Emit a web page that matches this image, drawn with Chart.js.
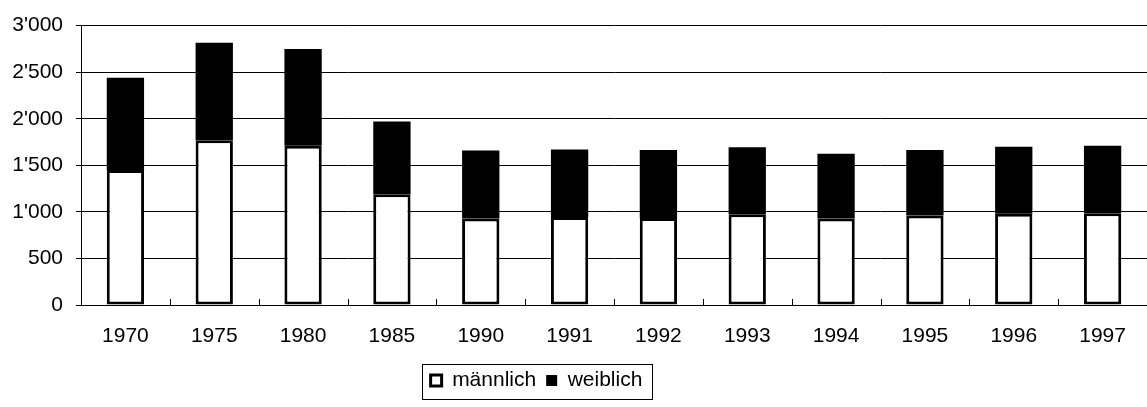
<!DOCTYPE html>
<html>
<head>
<meta charset="utf-8">
<script src="https://cdn.jsdelivr.net/npm/chart.js@4.4.0/dist/chart.umd.min.js"></script>
<style>
  html, body { margin: 0; padding: 0; background: #fff; }
  #wrap { width: 1147px; height: 407px; }
</style>
</head>
<body>
<div id="wrap"><canvas id="Canvasnya"></canvas></div>
<script>
var labels = ["1970", "1975", "1980", "1985", "1990", "1991", "1992", "1993", "1994", "1995", "1996", "1997"];
var maennlich = [1450, 1770, 1710, 1190, 930, 945, 935, 975, 930, 960, 980, 985];
var weiblich = [990, 1045, 1040, 780, 730, 725, 730, 720, 695, 705, 720, 725];
var yTicks = [0, 500, 1000, 1500, 2000, 2500, 3000];

Chart.defaults.font.family = "'Liberation Sans', Arial, sans-serif";
Chart.defaults.font.size = 21;
Chart.defaults.color = '#000';

// kleine Striche zwischen den Kategorien, nach oben
var catTicks = {
    id: 'catTicks',
    afterDatasetsDraw: function(chart) {
        var x = chart.scales.x, ctx = chart.ctx, y0 = chart.chartArea.bottom;
        ctx.save();
        ctx.strokeStyle = '#000';
        ctx.lineWidth = 1;
        for (var i = 1; i < labels.length; i++) {
            var px = Math.round((x.getPixelForTick(i - 1) + x.getPixelForTick(i)) / 2) + 0.5;
            ctx.beginPath();
            ctx.moveTo(px, y0);
            ctx.lineTo(px, y0 - 6);
            ctx.stroke();
        }
        ctx.restore();
    }
};

// Legende etwas nach links schieben und einrahmen
var legendBox = {
    id: 'legendBox',
    afterLayout: function(chart) {
        chart.legend.left -= 37;
        chart.legend.right -= 37;
    },
    afterDraw: function(chart) {
        var lg = chart.legend, ctx = chart.ctx;
        var w = lg.lineWidths[0] + 8;
        var cx = (lg.left + lg.right) / 2;
        var cy = lg.top + 10 + 12;
        ctx.save();
        ctx.strokeStyle = '#000';
        ctx.lineWidth = 1;
        ctx.strokeRect(Math.round(cx - w / 2) + 0.5, Math.round(cy - 18) + 0.5, Math.round(w), 35);
        ctx.restore();
    }
};

var myChart = new Chart(document.getElementById("Canvasnya").getContext('2d'), {
    type: 'bar',
    data: {
        labels: labels,
        datasets: [{
            label: 'männlich',
            data: maennlich,
            backgroundColor: '#fff',
            borderColor: '#000',
            borderWidth: 3,
            borderSkipped: false
        }, {
            label: 'weiblich',
            data: weiblich,
            backgroundColor: '#000',
            borderColor: '#000',
            borderWidth: 0
        }]
    },
    options: {
        responsive: true,
        maintainAspectRatio: false,
        animation: false,
        datasets: { bar: { categoryPercentage: 1, barPercentage: 0.42 } },
        layout: { padding: { top: 23, right: 0, bottom: 6, left: 0 } },
        plugins: {
            tooltip: { enabled: false },
            legend: {
                position: 'bottom',
                labels: {
                    boxWidth: 11,
                    boxHeight: 11,
                    padding: 10,
                    color: '#000',
                    font: { size: 21 }
                }
            }
        },
        scales: {
            x: {
                stacked: true,
                grid: { display: false },
                border: { display: true, color: '#000', width: 1 },
                ticks: { padding: 11, maxRotation: 0, color: '#000' },
                afterFit: function(s) { s.height = 55; }
            },
            y: {
                stacked: true,
                min: 0,
                max: 3000,
                afterBuildTicks: function(s) { s.ticks = yTicks.map(function(v) { return { value: v }; }); },
                grid: { color: '#000', lineWidth: 1, tickLength: 5 },
                border: { display: true, color: '#000', width: 1 },
                ticks: {
                    padding: 13,
                    color: '#000',
                    callback: function(v) { return String(v).replace(/\B(?=(\d{3})+(?!\d))/g, "'"); }
                },
                afterFit: function(s) { s.width = 81; }
            }
        }
    },
    plugins: [catTicks, legendBox]
});
</script>
</body>
</html>
